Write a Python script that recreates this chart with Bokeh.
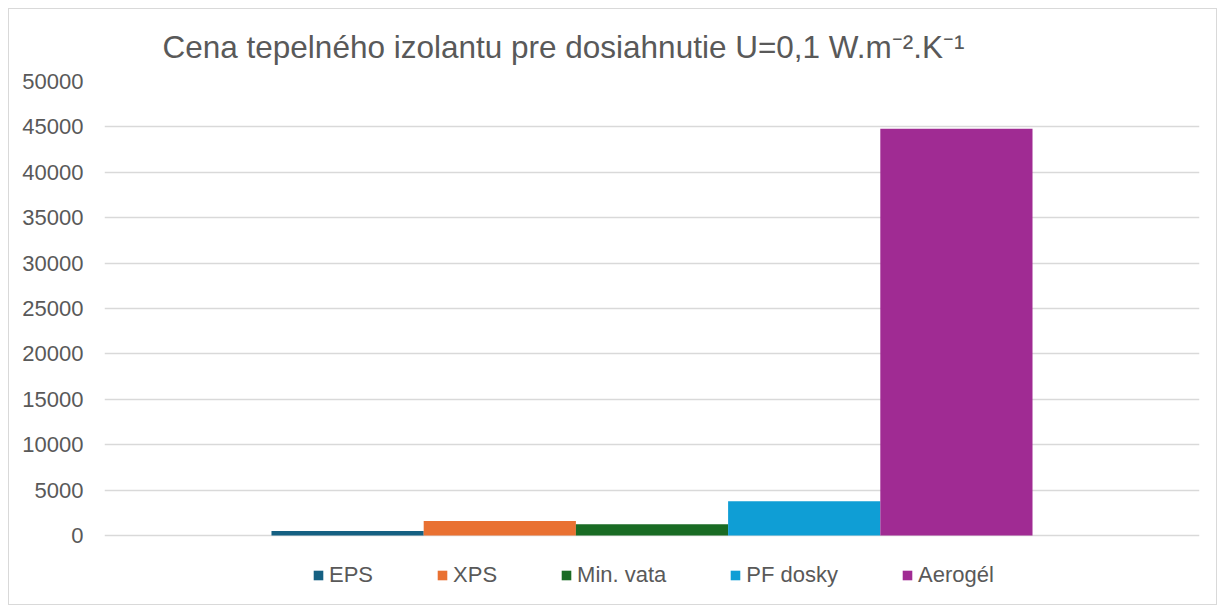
from bokeh.plotting import figure
from bokeh.models import (ColumnDataSource, FactorRange, Range1d, FixedTicker,
                          NumeralTickFormatter, Legend, LegendItem, Title)
from bokeh.transform import dodge
from bokeh.embed import file_html
from bokeh.resources import INLINE

# ---- data ----
category = ["Cena"]
series = ["EPS", "XPS", "Min. vata", "PF dosky", "Aerogél"]
values = [520, 1620, 1250, 3780, 44800]
colors = ["#156082", "#E97132", "#196B24", "#0F9ED5", "#A02B93"]
y_ticks = [0, 5000, 10000, 15000, 20000, 25000, 30000, 35000, 40000, 45000, 50000]

title_text = "Cena tepelného izolantu pre dosiahnutie U=0,1 W.m\u207b\u00b2.K\u207b\u00b9"

# layout: value axis 0..max occupies 455px, frame extends 64px below zero for the legend
y_max = y_ticks[-1]
axis_px = 455
below_px = 64
y_start = -y_max * below_px / axis_px

p = figure(width=1209, height=597, x_range=FactorRange(*category),
           y_range=Range1d(y_start, y_max), output_backend="svg", toolbar_location=None,
           min_border_left=95, min_border_right=19, min_border_top=71, min_border_bottom=7)
p.margin = (8, 0, 0, 8)
p.title = None
t = Title(text=title_text, align="left", offset=58, text_font="Liberation Sans",
          text_font_size="31.5px", text_font_style="normal", text_color="#595959", standoff=34)
p.add_layout(t, "above")

p.styles = {"border": "1px solid #d9d9d9", "box-sizing": "border-box"}

bar_w = 0.139
items = []
n = len(series)
for i, (s, v, c) in enumerate(zip(series, values, colors)):
    src = ColumnDataSource(dict(x=category, top=[v], bottom=[0]))
    r = p.vbar(x=dodge("x", (i - (n - 1) / 2) * bar_w, range=p.x_range), top="top",
               bottom="bottom", width=bar_w, source=src, fill_color=c, line_color=None)
    items.append(LegendItem(label=s, renderers=[r]))

legend = Legend(items=items, orientation="horizontal", location=(208, 11),
                label_text_font="Liberation Sans", label_text_font_size="22px",
                label_text_color="#595959", glyph_width=12, glyph_height=12,
                label_standoff=5, spacing=63, padding=0, margin=0,
                background_fill_alpha=0, border_line_color=None)
p.add_layout(legend, "center")

p.xaxis.visible = False
p.xgrid.grid_line_color = None
p.ygrid.grid_line_color = "#d9d9d9"
p.ygrid.grid_line_width = 1.3
p.yaxis.ticker = FixedTicker(ticks=y_ticks)
p.ygrid.ticker = FixedTicker(ticks=y_ticks)
p.yaxis.formatter = NumeralTickFormatter(format="0")
p.yaxis.axis_line_color = None
p.yaxis.major_tick_line_color = None
p.yaxis.minor_tick_line_color = None
p.yaxis.major_tick_out = 0
p.yaxis.major_label_standoff = 21
p.yaxis.major_label_text_font = "Liberation Sans"
p.yaxis.major_label_text_font_size = "22px"
p.yaxis.major_label_text_color = "#595959"
p.outline_line_color = None

open("out.html", "w").write(file_html(p, INLINE))
